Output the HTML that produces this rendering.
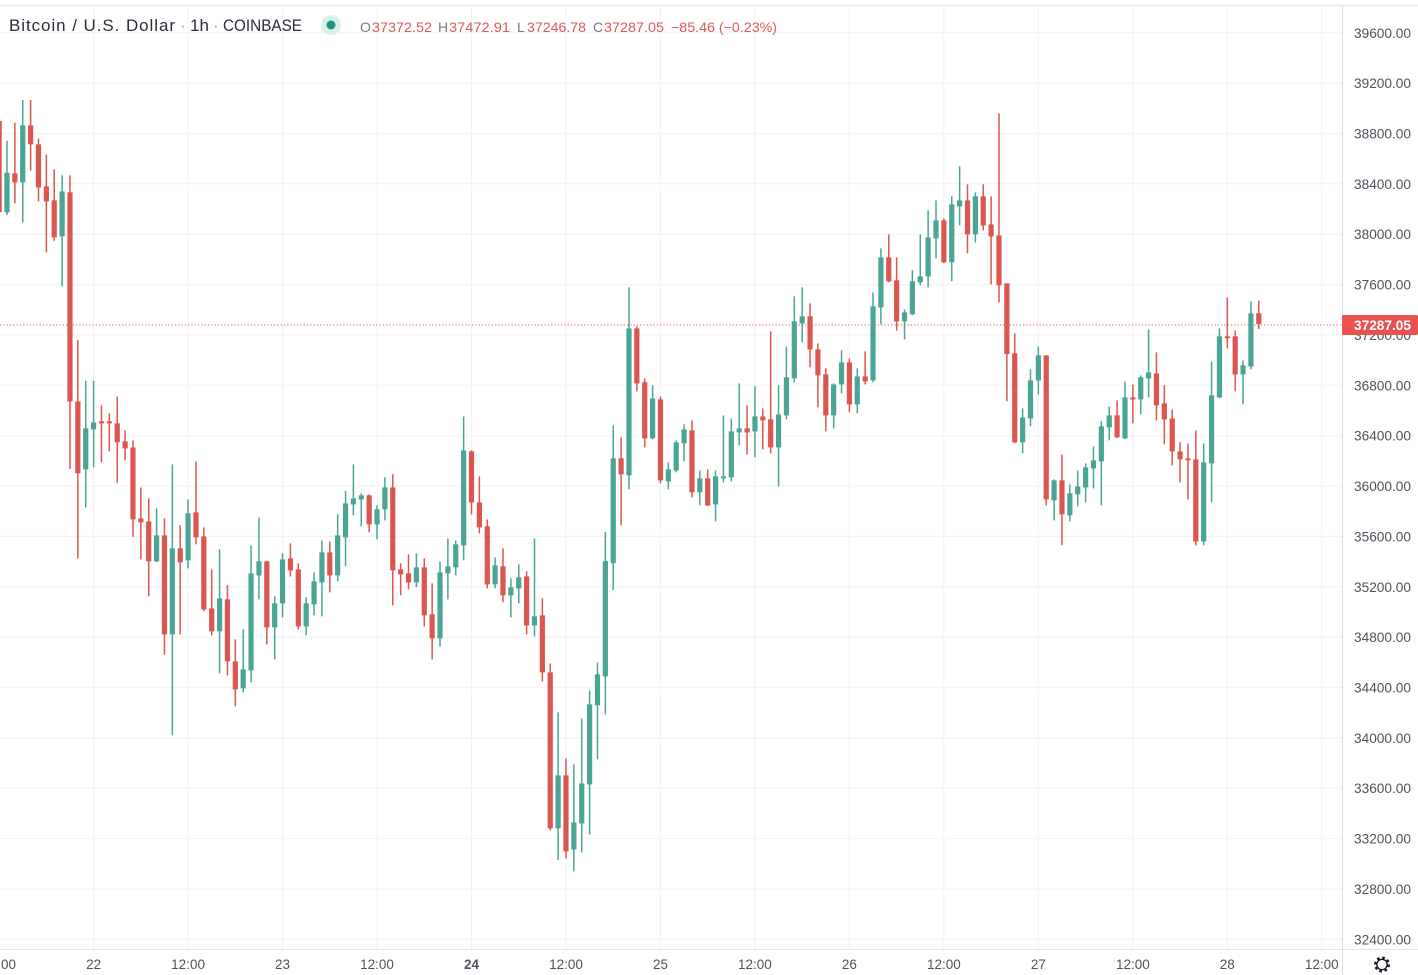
<!DOCTYPE html>
<html lang="en">
<head>
<meta charset="utf-8">
<title>Bitcoin / U.S. Dollar 1h chart</title>
<style>
html,body{margin:0;padding:0;background:#fff;}
body{width:1418px;height:975px;overflow:hidden;font-family:"Liberation Sans",sans-serif;}
svg{display:block;}
text{font-family:"Liberation Sans",sans-serif;}
</style>
</head>
<body>
<svg id="chart" xmlns="http://www.w3.org/2000/svg" width="1418" height="975" viewBox="0 0 1418 975">
  <rect x="0" y="0" width="1418" height="975" fill="#ffffff"/>
  <g id="grid"></g>
  <g id="candles"></g>
  <line x1="0" y1="5.5" x2="1418" y2="5.5" stroke="#e6e7ea" stroke-width="1.5"/>
  <line x1="0" y1="949.5" x2="1418" y2="949.5" stroke="#e4e5e9" stroke-width="1"/>
  <line x1="1342.5" y1="5" x2="1342.5" y2="975" stroke="#dcdde1" stroke-width="1"/>
  <g id="priceAxis"></g>
  <g id="timeAxis"></g>
  <line id="lastLine" x1="0" x2="1342" stroke="#e0605b" stroke-width="1" stroke-dasharray="1.3 2"/>
  <g>
    <rect id="lastTag" x="1342" width="76" height="20" rx="1.5" fill="#e8534f"/>
    <text id="lastText" x="1382.5" font-size="13.5" font-weight="bold" fill="#ffffff" text-anchor="middle" textLength="57" lengthAdjust="spacingAndGlyphs"></text>
  </g>
  <g>
    <text x="9" y="31" font-size="17" fill="#2a2e39" textLength="166" lengthAdjust="spacing">Bitcoin / U.S. Dollar</text>
    <text x="180" y="31" font-size="17" fill="#9a9da6">·</text>
    <text x="190" y="31" font-size="17" fill="#2a2e39" textLength="19" lengthAdjust="spacing">1h</text>
    <text x="213" y="31" font-size="17" fill="#9a9da6">·</text>
    <text x="223" y="31" font-size="16.5" fill="#2a2e39" textLength="79" lengthAdjust="spacingAndGlyphs">COINBASE</text>
    <circle cx="331" cy="25" r="10" fill="#d9efeb"/>
    <circle cx="331" cy="25" r="4.5" fill="#22917f"/>
    <text x="360" y="32" font-size="14" fill="#787b86">O</text>
    <text x="372" y="32" font-size="14" fill="#dd5a55" textLength="60" lengthAdjust="spacingAndGlyphs">37372.52</text>
    <text x="438" y="32" font-size="14" fill="#787b86">H</text>
    <text x="449" y="32" font-size="14" fill="#dd5a55" textLength="61" lengthAdjust="spacingAndGlyphs">37472.91</text>
    <text x="517" y="32" font-size="14" fill="#787b86">L</text>
    <text x="527" y="32" font-size="14" fill="#dd5a55" textLength="59" lengthAdjust="spacingAndGlyphs">37246.78</text>
    <text x="593" y="32" font-size="14" fill="#787b86">C</text>
    <text x="604" y="32" font-size="14" fill="#dd5a55" textLength="60" lengthAdjust="spacingAndGlyphs">37287.05</text>
    <text x="671" y="32" font-size="14" fill="#dd5a55" textLength="106" lengthAdjust="spacingAndGlyphs">−85.46 (−0.23%)</text>
  </g>
  <g fill="none" stroke="#131722" stroke-width="1.3">
    <circle cx="1382" cy="964.5" r="5.2"/>
    <circle cx="1382" cy="964.5" r="6.8" stroke-width="2.4" stroke-dasharray="2.6 2.74"/>
  </g>
</svg>
<script>
// Hourly candles, first candle is 21 Jan 12:00 (hour -12 relative to the "22" tick).
var opens = [
38901,38174,38483,38412,38865,38714,38380,38269,37983,38333,
36672,36132,36450,36514,36514,36498,36355,36307,35743,35719,
35402,35608,34822,35505,35410,35791,35600,35028,34846,35100,
34607,34393,34536,35290,35402,34877,35068,35425,35338,34885,
35060,35235,35473,35290,35592,35854,35894,35926,35695,35815,
35989,35338,35306,35235,35354,34981,34790,35306,35354,35529,
36275,35870,35680,35219,35362,35132,35187,35282,34893,34973,
34520,33281,33702,33114,33320,33630,34258,34488,35388,36220,
36085,37252,36824,36379,36688,36037,36124,36339,36442,35950,
36061,35854,36061,36069,36426,36458,36434,36553,36530,36307,
36561,36855,37292,37348,37085,36887,36561,36807,36982,36649,
36871,36839,37419,37816,37634,37308,37364,37618,37665,37967,
38110,37777,38221,38269,37999,38301,38078,37991,37610,37054,
36347,36537,36839,37038,35886,36045,35767,35934,35989,36140,
36196,36466,36561,36379,36704,36688,36855,36895,36657,36537,
36275,36220,36212,35560,36180,36704,37189,37189,36887,36950,37372.52];
var highs = [
38907,38742,38885,39066,39066,38761,38634,38515,38468,38468,
37159,36836,36836,36641,36577,36712,36442,36363,35989,35902,
35823,35743,36172,35688,35894,36196,35672,35338,35497,35213,
34782,34862,35529,35751,35406,35124,35465,35545,35386,35116,
35314,35568,35560,35775,35962,36172,35942,35934,35846,36069,
36093,35386,35457,35465,35425,35227,35402,35584,35568,36553,
36283,36077,35735,35433,35505,35267,35378,35322,35584,35108,
34591,34202,33837,33789,34154,34377,34599,35637,36482,36387,
37578,37268,36855,36800,36712,36188,36363,36490,36522,36124,
36132,36124,36561,36537,36815,36641,36792,36617,37228,36800,
37109,37507,37578,37451,37133,36935,36815,37078,37014,36935,
37070,37538,37888,37999,37816,37403,37713,37999,38190,38269,
38126,38301,38539,38396,38333,38396,38301,38960,37610,37213,
36617,36927,37109,37038,36053,36251,36013,36124,36180,36315,
36514,36633,36680,36831,36807,36879,37244,37062,36800,36609,
36347,36339,36442,36339,36990,37252,37498,37236,36998,37467,37472.91];
var lows = [
38160,38152,38245,38094,38504,38261,37856,37948,37586,36135,
35425,35830,36148,36188,36275,36026,36204,35597,35417,35124,
35396,34660,34020,34822,35346,35537,35005,34814,34512,34496,
34250,34361,34441,35100,34742,34623,34957,35282,34862,34814,
34973,34965,35155,35243,35362,35767,35680,35632,35576,35727,
35052,35132,35179,35195,34885,34623,34726,35100,35290,35410,
35775,35624,35187,35187,35076,34957,35068,34822,34806,34448,
33265,33029,33042,32939,33090,33233,33829,34186,35174,35688,
35974,36752,36307,36371,36021,35974,36108,36196,35910,35846,
35841,35719,36029,36037,36323,36251,36228,36291,36259,35997,
36530,36824,37141,36943,36625,36434,36458,36736,36585,36577,
36807,36824,37284,37618,37236,37165,37358,37594,37578,37808,
37771,37626,38070,37848,37935,38031,37602,37459,36672,36341,
36259,36474,36728,35846,35727,35529,35719,35838,35870,35981,
35846,36363,36381,36373,36498,36569,36704,36522,36331,36164,
36029,35894,35529,35529,35870,36699,37093,36752,36649,36927,37246.78];
var closes = [
38176,38488,38412,38865,38714,38372,38261,37975,38340,36672,
36101,36458,36506,36498,36498,36347,36299,35735,35711,35402,
35608,34822,35505,35394,35783,35592,35020,34846,35108,34607,
34385,34544,35306,35402,34877,35068,35417,35330,34885,35068,
35243,35473,35290,35608,35862,35902,35926,35695,35815,35989,
35330,35298,35235,35354,34973,34790,35314,35362,35537,36283,
35870,35672,35219,35370,35132,35195,35275,34893,34965,34520,
33281,33702,33098,33328,33638,34266,34504,35404,36220,36093,
37252,36815,36379,36696,36045,36132,36347,36450,35950,36061,
35846,36077,36077,36434,36458,36426,36553,36522,36307,36569,
36863,37308,37348,37085,36879,36561,36807,36982,36649,36871,
36831,37427,37816,37626,37308,37379,37626,37665,37975,38110,
37777,38237,38269,37999,38301,38070,37983,37594,37048,36347,
36545,36839,37038,35894,36045,35775,35942,35997,36148,36204,
36474,36561,36387,36704,36688,36863,36903,36641,36530,36275,
36212,36204,35560,36188,36720,37189,37173,36887,36958,37371,37287.05];
var firstHour = -12;
var priceTicks = [39600,39200,38800,38400,38000,37600,37200,36800,36400,36000,35600,35200,34800,34400,34000,33600,33200,32800,32400];
var timeLabels = ['12:00','22','12:00','23','12:00','24','12:00','25','12:00','26','12:00','27','12:00','28','12:00'];
var timeLabelStepHours = 12;
var lastPrice = 37287.05;

var NS = 'http://www.w3.org/2000/svg';
var UP = '#4aa596';
var DOWN = '#dc5650';
function xScale(hour) { return 93.6 + hour * 7.873; }
function yScale(price) { return 32.8 + (39600 - price) * 0.1259; }
function mk(tag, parent, attrs) {
  var el = document.createElementNS(NS, tag);
  for (var k in attrs) { el.setAttribute(k, attrs[k]); }
  parent.appendChild(el);
  return el;
}

var grid = document.getElementById('grid');
var priceAxis = document.getElementById('priceAxis');
var timeAxis = document.getElementById('timeAxis');
var candles = document.getElementById('candles');

priceTicks.forEach(function (p) {
  var y = yScale(p);
  var gl = mk('line', grid, { x1: 0, x2: 1342, y1: y, y2: y, stroke: '#f3f4f7', 'stroke-width': 1.2 });
  
  
  var t = mk('text', priceAxis, { x: 1354, y: y + 5, 'font-size': 13.5, fill: '#4f525c', textLength: 57, lengthAdjust: 'spacingAndGlyphs' });
  
  
  t.textContent = p.toFixed(2);
});

timeLabels.forEach(function (label, k) {
  var hour = firstHour + k * timeLabelStepHours;
  var x = xScale(hour);
  var gl = mk('line', grid, { x1: x, x2: x, y1: 6, y2: 949, stroke: '#f0f1f5', 'stroke-width': 1 });
  
  
  var t = mk('text', timeAxis, { x: x, y: 969, 'font-size': 13.5, fill: '#4f525c', 'text-anchor': 'middle' });
  
  
  if (label === '24') { t.setAttribute('font-weight', 'bold'); }
  t.textContent = label;
});

opens.forEach(function (o, i) {
  var c = closes[i];
  var cx = xScale(firstHour + i);
  var color = c >= o ? UP : DOWN;
  var g = mk('g', candles, {});
  
  
  var wick = mk('rect', g, { x: cx - 0.75, width: 1.5, y: yScale(highs[i]), height: Math.max(1, yScale(lows[i]) - yScale(highs[i])), fill: color });
  
  
  var top = yScale(Math.max(o, c));
  var bottom = yScale(Math.min(o, c));
  var body = mk('rect', g, { x: cx - 2.6, width: 5.2, y: top, height: Math.max(1.5, bottom - top), fill: color });
  
  
});

var lastY = yScale(lastPrice) + 1;
var lastLine = document.getElementById('lastLine');
lastLine.setAttribute('y1', lastY);
lastLine.setAttribute('y2', lastY);
document.getElementById('lastTag').setAttribute('y', lastY - 10);
var lastText = document.getElementById('lastText');
lastText.setAttribute('y', lastY + 5);
lastText.textContent = lastPrice.toFixed(2);
</script>
</body>
</html>
